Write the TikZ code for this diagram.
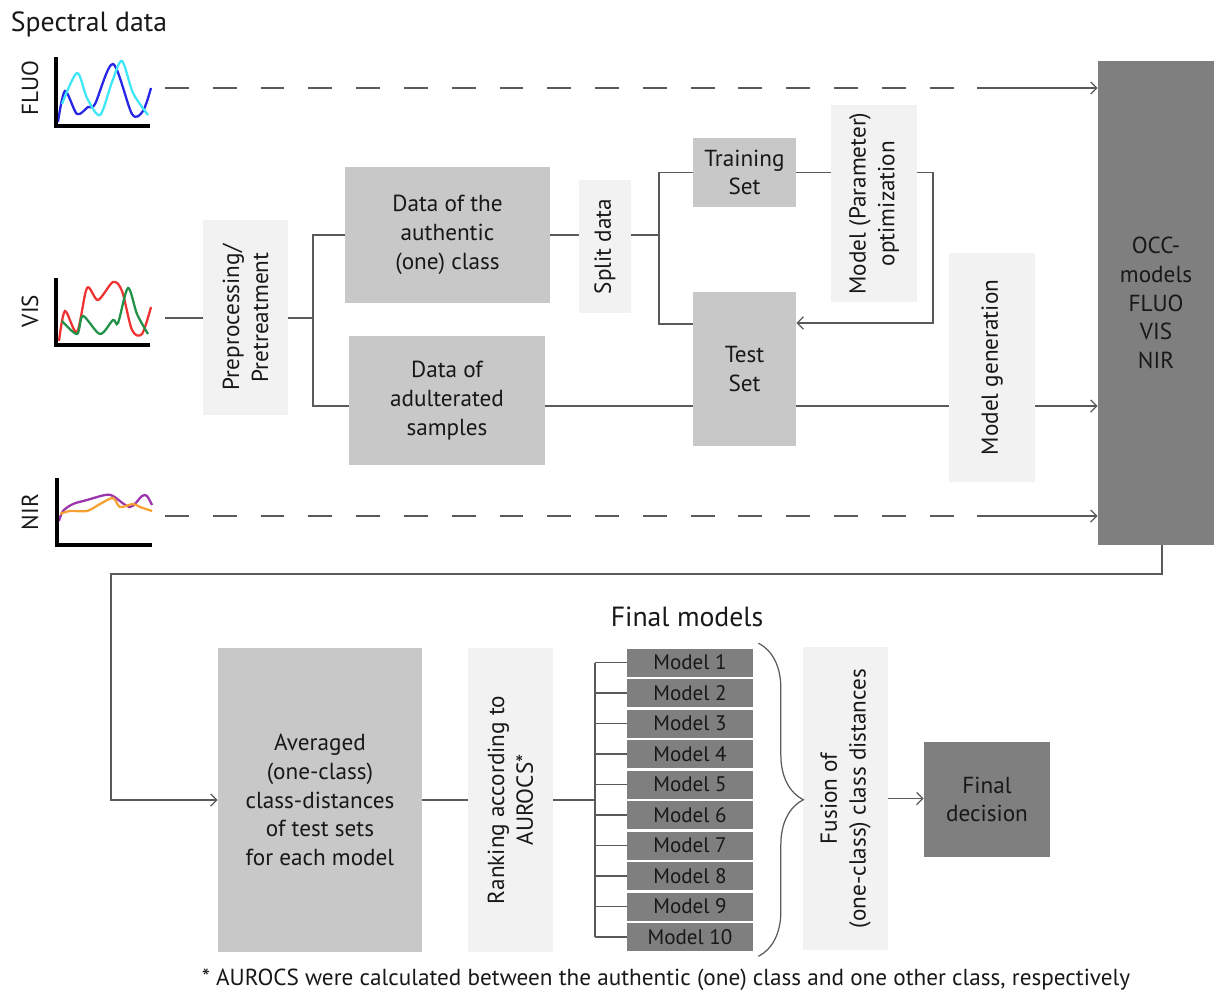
\documentclass[tikz,border=0pt]{standalone}
\usepackage{fontspec}
\setmainfont{PT Sans}
\usepackage{tikz}
\usetikzlibrary{arrows.meta,positioning,decorations.pathreplacing,calc}
\definecolor{bgdark}{HTML}{7F7F7F}
\definecolor{bgmid}{HTML}{C8C8C8}
\definecolor{bglight}{HTML}{F2F2F2}
\definecolor{ink}{HTML}{1A1718}
\definecolor{wiregray}{HTML}{5A5A5A}
\definecolor{fluoblue}{HTML}{2626E6}
\definecolor{fluocyan}{HTML}{3FE6F5}
\definecolor{visred}{HTML}{EE3333}
\definecolor{visgreen}{HTML}{22924A}
\definecolor{nirpurple}{HTML}{9B35AE}
\definecolor{nirorange}{HTML}{F6A132}
\newcommand{\boxfont}{\fontsize{13.2}{16.4}\selectfont}
\newcommand{\modelfont}{\fontsize{12}{13}\selectfont}
\newcommand{\headfont}{\fontsize{15.8}{18}\selectfont}
\newcommand{\notefont}{\fontsize{13.2}{15}\selectfont}
\tikzset{
  stagebox/.style={
    rectangle, fill=#1, draw=none, text=ink,
    font=\boxfont, align=center, inner sep=2pt
  },
  stagebox/.default=bgmid,
  stagevert/.style={stagebox=bglight, rotate=90},
  modelbox/.style={rectangle, fill=bgdark, text=ink, font=\modelfont,
    minimum width=2.52cm, minimum height=0.56cm, inner sep=0pt},
  headtext/.style={text=ink, font=\headfont, inner sep=0pt},
  axislabel/.style={text=ink, font=\boxfont, rotate=90, inner sep=0pt},
  wire/.style={draw=wiregray, line width=0.7pt},
  wirearrow/.style={wire, -{Straight Barb[length=3.5pt,width=7pt]}},
  dashwire/.style={wire, dash pattern=on 13.6pt off 13.6pt},
  axisline/.style={draw=black, line width=2pt},
  curve/.style={line width=1.3pt, draw=#1},
}

\begin{document}
\begin{tikzpicture}[x=0.02cm, y=-0.02cm]
  \useasboundingbox (0,0) rectangle (1214,994);

  % spectral data
  \node[headtext] (spec) at (89,24) {Spectral data};
  \node[axislabel] (fluolab) at (30,88) {FLUO};
  \node[axislabel] (vislab) at (30,311) {VIS};
  \node[axislabel] (nirlab) at (30,512) {NIR};

  \draw[curve=fluoblue] plot[smooth] coordinates {(58,122) (65,91) (77,114)
    (88,107) (95,104) (113,64) (132,114) (143,111) (151,88)};
  \draw[curve=fluocyan] plot[smooth] coordinates {(62,104) (77,73) (87,98)
    (100,115) (112,82) (122,61) (133,93) (148,115)};
  \draw[axisline] (56,57) -- (56,126) -- (150,126);

  \draw[curve=visred] plot[smooth] coordinates {(59,341) (65,311) (77,332)
    (87,288) (98,300) (113,282) (122,291) (132,330) (142,334) (151,307)};
  \draw[curve=visgreen] plot[smooth] coordinates {(62,321) (77,334) (83,316)
    (100,334) (113,320) (118,323) (128,288) (137,314) (148,334)};
  \draw[axisline] (56,278) -- (56,345) -- (150,345);

  \draw[curve=nirpurple] plot[smooth] coordinates {(59,521) (63,511) (73,504)
    (87,500) (105,495) (113,496) (130,507) (142,496) (147,496) (152,505)};
  \draw[curve=nirorange] plot[smooth] coordinates {(60,514) (70,511) (87,511)
    (100,504) (113,498) (120,507) (133,504) (140,507) (152,511)};
  \draw[axisline] (57,478) -- (57,545) -- (152,545);

  % upper flow (rotated boxes: north = left side, south = right side)
  \node[stagevert, minimum width=3.9cm, minimum height=1.7cm] (prep)
    at (245.5,317.5) {Preprocessing/\\Pretreatment};
  \node[stagebox, minimum width=4.1cm, minimum height=2.72cm] (auth)
    at (447.5,235) {Data of the\\authentic\\(one) class};
  \node[stagebox, minimum width=3.92cm, minimum height=2.58cm] (adult)
    at (447,400.5) {Data of\\adulterated\\samples};
  \node[stagevert, minimum width=2.66cm, minimum height=1.04cm] (split)
    at (605,246.5) {Split data};
  \node[stagebox, minimum width=2.06cm, minimum height=1.38cm] (train)
    at (744.5,172.5) {Training\\Set};
  \node[stagebox, minimum width=2.06cm, minimum height=3.08cm] (test)
    at (744.5,369) {Test\\Set};
  \node[stagevert, minimum width=3.94cm, minimum height=1.72cm] (opt)
    at (874,203.5) {Model (Parameter)\\optimization};
  \node[stagevert, minimum width=4.58cm, minimum height=1.72cm] (gen)
    at (992,367.5) {Model generation};
  \node[stagebox=bgdark, minimum width=2.32cm, minimum height=9.68cm] (occ)
    at (1156,303) {OCC-\\models\\FLUO\\VIS\\NIR};

  \coordinate (fluoout) at (165,88);
  \coordinate (fluoend) at (1000,88);
  \coordinate (visout) at (165,318);
  \coordinate (nirout) at (165,516);
  \coordinate (nirend) at (1000,516);
  \coordinate (j1) at (313,318);
  \coordinate (j2) at (659,235);
  \coordinate (loop) at (933,323);
  \coordinate (row) at (0,406);

  \draw[dashwire] (fluoout) -- (fluoend);
  \draw[wirearrow] (fluoend) -- (fluoend -| occ.west);
  \draw[dashwire] (nirout) -- (nirend);
  \draw[wirearrow] (nirend) -- (nirend -| occ.west);
  \draw[wire] (visout) -- (visout -| prep.north);
  \draw[wire] (visout -| prep.south) -- (j1);
  \draw[wire] (auth.west) -| (j1) |- (adult.west |- row);
  \draw[wire] (auth.east) -- (auth.east -| split.north);
  \draw[wire] (auth.east -| split.south) -- (j2);
  \draw[wire] (train.west) -| (j2) |- ([yshift=0.9cm]test.west);
  \draw[wire] (train.east) -- (train.east -| opt.north);
  \draw[wirearrow] (train.east -| opt.south) -| (loop) -- (loop -| test.east);
  \draw[wire] (adult.east |- row) -- (test.west |- row);
  \draw[wire] (test.east |- row) -- (gen.north |- row);
  \draw[wirearrow] (gen.south |- row) -- (occ.west |- row);

  % lower flow
  \node[stagebox, minimum width=4.08cm, minimum height=6.08cm] (avg)
    at (320,800) {Averaged\\(one-class)\\class-distances\\of test sets\\for each model};
  \node[stagevert, minimum width=6.08cm, minimum height=1.7cm] (rank)
    at (510.5,800) {Ranking according to\\AUROCS*};
  \node[headtext] (fmlab) at (687,617) {Final models};
  \coordinate (ladder) at (595,800);
  \foreach \i in {1,...,10} {
    \node[modelbox] (m\i) at (690,{662.5+30.5*(\i-1)}) {Model \i};
    \draw[wire] (m\i.west) -- (m\i.west -| ladder);
  }
  \draw[wire] (m1.west -| ladder) -- (m10.west -| ladder);
  \node[stagevert, minimum width=6.06cm, minimum height=1.7cm] (fusion)
    at (845.5,798.5) {Fusion of\\(one-class) class distances};
  \node[stagebox=bgdark, minimum width=2.52cm, minimum height=2.3cm] (final)
    at (987,799.5) {Final\\decision};

  \draw[wirearrow] ([xshift=0.12cm]occ.south) |- (111,574) |- (avg.west);
  \draw[wire] (avg.east) -- (rank.north);
  \draw[wire] (rank.south) -- (ladder);
  \draw[wire, decorate, decoration={brace, amplitude=0.9cm}]
    ([xshift=0.1cm,yshift=0.1cm]m1.north east)
    -- ([xshift=0.1cm,yshift=-0.1cm]m10.south east);
  \draw[wirearrow] (fusion.south) -- (fusion.south -| final.west);

  \node[text=ink, font=\notefont, inner sep=0pt] (note) at (666,980)
    {* AUROCS were calculated between the authentic (one) class and one other class, respectively};
\end{tikzpicture}
\end{document}
